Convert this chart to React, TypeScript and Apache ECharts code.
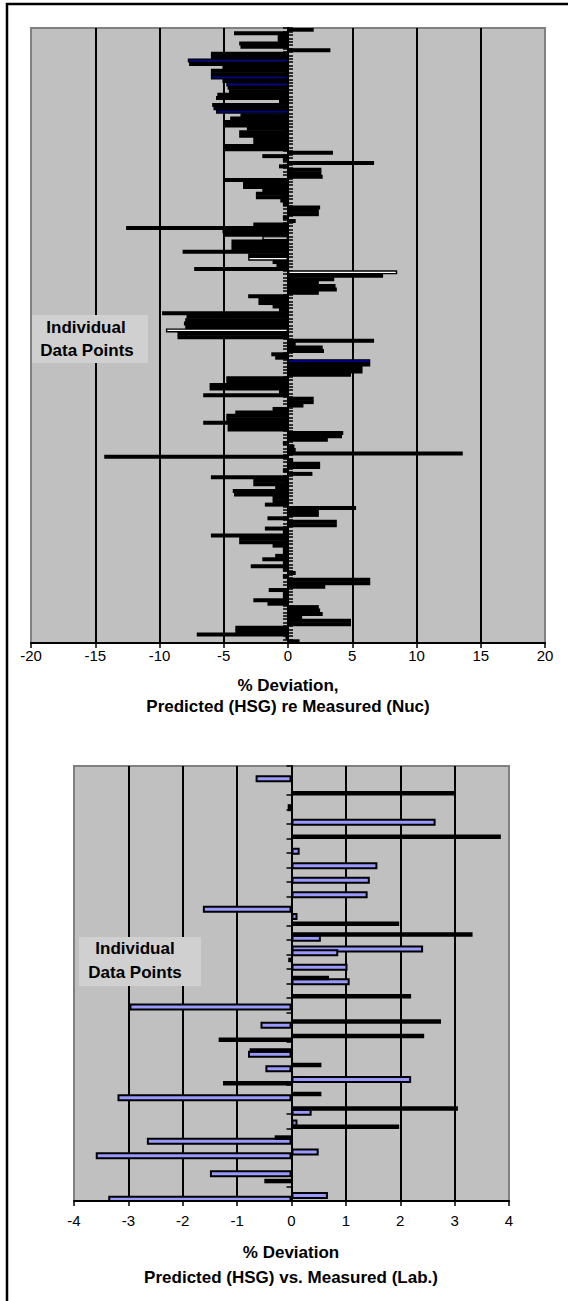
import React, { useEffect, useRef } from "react";
import * as echarts from "echarts";

// ---------- DATA ----------
// Top chart: % deviation, Predicted (HSG) re Measured (Nuc), top-to-bottom order
const topDeviation = [
  2.0, -4.2, -0.8, -0.8, -3.8, -3.7, 3.3, -6.0, -6.0, -7.8,
  -7.7, -5.1, -6.0, -6.0, -6.0, -5.1, -4.8, -4.7, -4.6, -5.5,
  -5.6, -0.7, -5.9, -5.8, -5.6, -3.7, -4.5, -5.0, -5.0, -3.2,
  -3.8, -3.8, -2.7, -2.7, -4.9, -4.9, 3.5, -2.0, -0.4, 6.7,
  -0.7, 2.6, 2.6, 2.7, -5.0, -3.5, -3.5, -2.0, -2.5, -2.5,
  -0.6, -0.4, 2.5, 2.4, 2.4, -0.4, 0.6, -2.7, -12.6, -5.1,
  -5.0, -2.0, -4.4, -4.4, -4.4, -8.2, -3.1, -3.1, -1.2, -0.9,
  -7.3, 8.5, 7.4, 3.6, 2.4, 3.7, 3.8, 2.4, -3.1, -2.3,
  -2.3, -1.2, -0.7, -9.8, -7.9, -8.0, -8.1, -8.0, -9.5, -8.6,
  -8.6, 6.7, 0.6, 2.7, 2.8, -1.3, -1.0, 6.4, 6.4, 5.8,
  5.8, 4.9, -4.8, -4.8, -6.1, -6.1, -0.7, -6.6, 2.0, 2.0,
  1.2, -1.2, -4.1, -4.8, -4.8, -6.6, -4.7, -4.7, 4.3, 4.2,
  3.1, -0.4, 0.5, 0.6, 13.6, -14.3, 0.4, 2.5, 2.5, -0.4,
  1.9, -6.0, -2.7, -2.7, -1.0, -4.3, -4.2, -1.2, -1.2, -1.8,
  5.3, 2.4, 2.4, -1.6, 3.8, 3.8, -1.8, -0.4, -6.0, -3.8,
  -3.8, -1.2, -0.4, -0.4, -1.0, -2.0, -0.4, -2.9, -0.4, 0.6,
  -0.4, 6.4, 6.4, 2.9, -1.5, -0.4, -0.4, -2.7, -1.6, 2.4,
  2.5, 2.7, 1.1, 4.9, 4.9, -4.1, -4.1, -7.1, -0.2, 0.9,
];
const topTicks = [-20, -15, -10, -5, 0, 5, 10, 15, 20];

// Bottom chart: % deviation, Predicted (HSG) vs Measured (Lab.)
// [point slot (top-to-bottom), value]
const labSlotCount = 120;
const labBlue: [number, number][] = [
  [3, -0.66], [11, -0.07], [15, 2.65], [23, 0.15], [27, 1.58], [31, 1.44],
  [35, 1.40], [39, -1.63], [41, 0.11], [47, 0.54], [50, 2.42], [51, 0.86],
  [55, 1.03], [59, 1.07], [66, -2.98], [71, -0.57], [79, -0.80], [83, -0.48],
  [86, 2.2], [91, -3.2], [95, 0.37], [98, 0.11], [103, -2.66], [106, 0.5],
  [107, -3.6], [112, -1.5], [118, 0.67], [119, -3.37],
];
const labBlack: [number, number][] = [
  [7, 3.0], [19, 3.85], [43, 1.98], [46, 3.33], [53, -0.06], [58, 0.69],
  [63, 2.2], [70, 2.75], [74, 2.44], [75, -1.34], [78, -0.77], [82, 0.55],
  [87, -1.26], [90, 0.55], [94, 3.06], [99, 1.98], [102, -0.31], [114, -0.5],
];
const bottomTicks = [-4, -3, -2, -1, 0, 1, 2, 3, 4];

const topTitle = ["% Deviation,", "Predicted (HSG) re Measured (Nuc)"];
const bottomTitle = ["% Deviation", "Predicted (HSG) vs. Measured (Lab.)"];
const boxLabel = ["Individual", "Data Points"];

// styling of a few top bars whose fill shows through
const topBlueIdx = [9, 14, 16, 24, 97];
const topWhiteIdx = [61, 67, 71, 88];

const FONT = '"Liberation Sans", Arial, Helvetica, sans-serif';

const TOP_GRID = { left: 31, top: 28, width: 514, height: 615 };
const BOTTOM_GRID = { left: 74, top: 766, width: 435, height: 435 };

function valueAxis(grid: number, ticks: number[], margin: number) {
  return {
    gridIndex: grid,
    type: "value",
    min: ticks[0],
    max: ticks[ticks.length - 1],
    interval: ticks[1] - ticks[0],
    axisLine: { show: true, onZero: false, lineStyle: { color: "#000", width: 2 } },
    axisTick: { show: true, length: 5, lineStyle: { color: "#000", width: 1.5 } },
    axisLabel: { color: "#000", fontSize: 15, fontFamily: FONT, margin },
    splitLine: {
      show: true,
      showMinLine: false,
      showMaxLine: false,
      lineStyle: { color: "#000", width: 2 },
    },
  };
}

function catAxis(
  grid: number,
  n: number,
  tickInterval: number,
  opts: { line?: boolean; ticks?: boolean; inside?: boolean; offset?: number } = {}
) {
  const { line = true, ticks = true, inside = false, offset = 0 } = opts;
  return {
    gridIndex: grid,
    type: "category",
    position: "left",
    offset,
    inverse: true,
    data: Array.from({ length: n }, (_, i) => String(i + 1)),
    axisLine: { show: line, onZero: true, lineStyle: { color: "#000", width: 2 } },
    axisTick: {
      show: ticks,
      inside,
      interval: tickInterval,
      length: 5,
      lineStyle: { color: "#000", width: 1.5 },
    },
    axisLabel: { show: false },
    splitLine: { show: false },
  };
}

function textEl(text: string, x: number, y: number, size: number) {
  return {
    type: "text",
    x,
    y,
    z: 60,
    style: {
      text,
      fill: "#000",
      font: `bold ${size}px ${FONT}`,
      align: "center",
      verticalAlign: "middle",
      textAlign: "center",
      textVerticalAlign: "middle",
    },
  };
}

export default function App() {
  const ref = useRef<HTMLDivElement>(null);
  useEffect(() => {
    if (!ref.current) return;
    const chart = echarts.init(ref.current, undefined, { renderer: "svg" });
    const topData = topDeviation.map((v, i) => {
      if (topBlueIdx.includes(i))
        return { value: v, itemStyle: { color: "#000099", borderColor: "#000", borderWidth: 1.2 } };
      if (topWhiteIdx.includes(i))
        return { value: v, itemStyle: { color: "#FFFFFF", borderColor: "#000", borderWidth: 1.4 } };
      return v;
    });
    // distance from the top grid's left edge to its x = 0 position
    const zeroShift =
      (TOP_GRID.width * (0 - topTicks[0])) / (topTicks[topTicks.length - 1] - topTicks[0]);
    const option = {
      animation: false,
      backgroundColor: "#FFFFFF",
      grid: [
        { ...TOP_GRID, show: true, backgroundColor: "#C0C0C0", borderColor: "#808080", borderWidth: 2 },
        { ...BOTTOM_GRID, show: true, backgroundColor: "#C0C0C0", borderColor: "#808080", borderWidth: 2 },
      ],
      xAxis: [valueAxis(0, topTicks, 5), valueAxis(1, bottomTicks, 12)],
      yAxis: [
        catAxis(0, topDeviation.length, 0),
        catAxis(1, labSlotCount, 3),
        catAxis(1, labSlotCount, 3, { line: false, ticks: false }),
        catAxis(0, topDeviation.length, 0, { line: false, inside: true, offset: -zeroShift }),
      ],
      series: [
        {
          type: "bar",
          xAxisIndex: 0,
          yAxisIndex: 0,
          data: topData,
          barWidth: 4,
          itemStyle: { color: "#000" },
          z: 3,
        },
        {
          type: "bar",
          xAxisIndex: 1,
          yAxisIndex: 1,
          data: labBlue.map(([slot, v]) => [v, slot]),
          barWidth: 7,
          itemStyle: { color: "#9999FF", borderColor: "#000", borderWidth: 2 },
          z: 3,
        },
        {
          type: "bar",
          xAxisIndex: 1,
          yAxisIndex: 2,
          data: labBlack.map(([slot, v]) => [v, slot]),
          barWidth: 4.5,
          itemStyle: { color: "#000" },
          z: 4,
        },
      ],
      graphic: [
        { type: "rect", z: 100, silent: true, shape: { x: 7, y: 4, width: 900, height: 1600 }, style: { fill: "none", stroke: "#000", lineWidth: 2.5 } },
        { type: "rect", z: 50, shape: { x: 32, y: 315, width: 116, height: 48 }, style: { fill: "#D0D0D0" } },
        textEl(boxLabel[0], 86, 327, 17),
        textEl(boxLabel[1], 87, 350, 17),
        { type: "rect", z: 50, shape: { x: 79, y: 937, width: 122, height: 49 }, style: { fill: "#D0D0D0" } },
        textEl(boxLabel[0], 135, 948, 17),
        textEl(boxLabel[1], 135, 972, 17),
        textEl(topTitle[0], 288, 685, 17),
        textEl(topTitle[1], 288, 706, 17),
        textEl(bottomTitle[0], 291, 1252, 17),
        textEl(bottomTitle[1], 291, 1277, 17),
      ],
    };
    chart.setOption(option as any);
    return () => chart.dispose();
  }, []);
  return (
    <div
      ref={ref}
      style={{ position: "absolute", left: 0, top: 0, width: 568, height: 1301 }}
    />
  );
}
